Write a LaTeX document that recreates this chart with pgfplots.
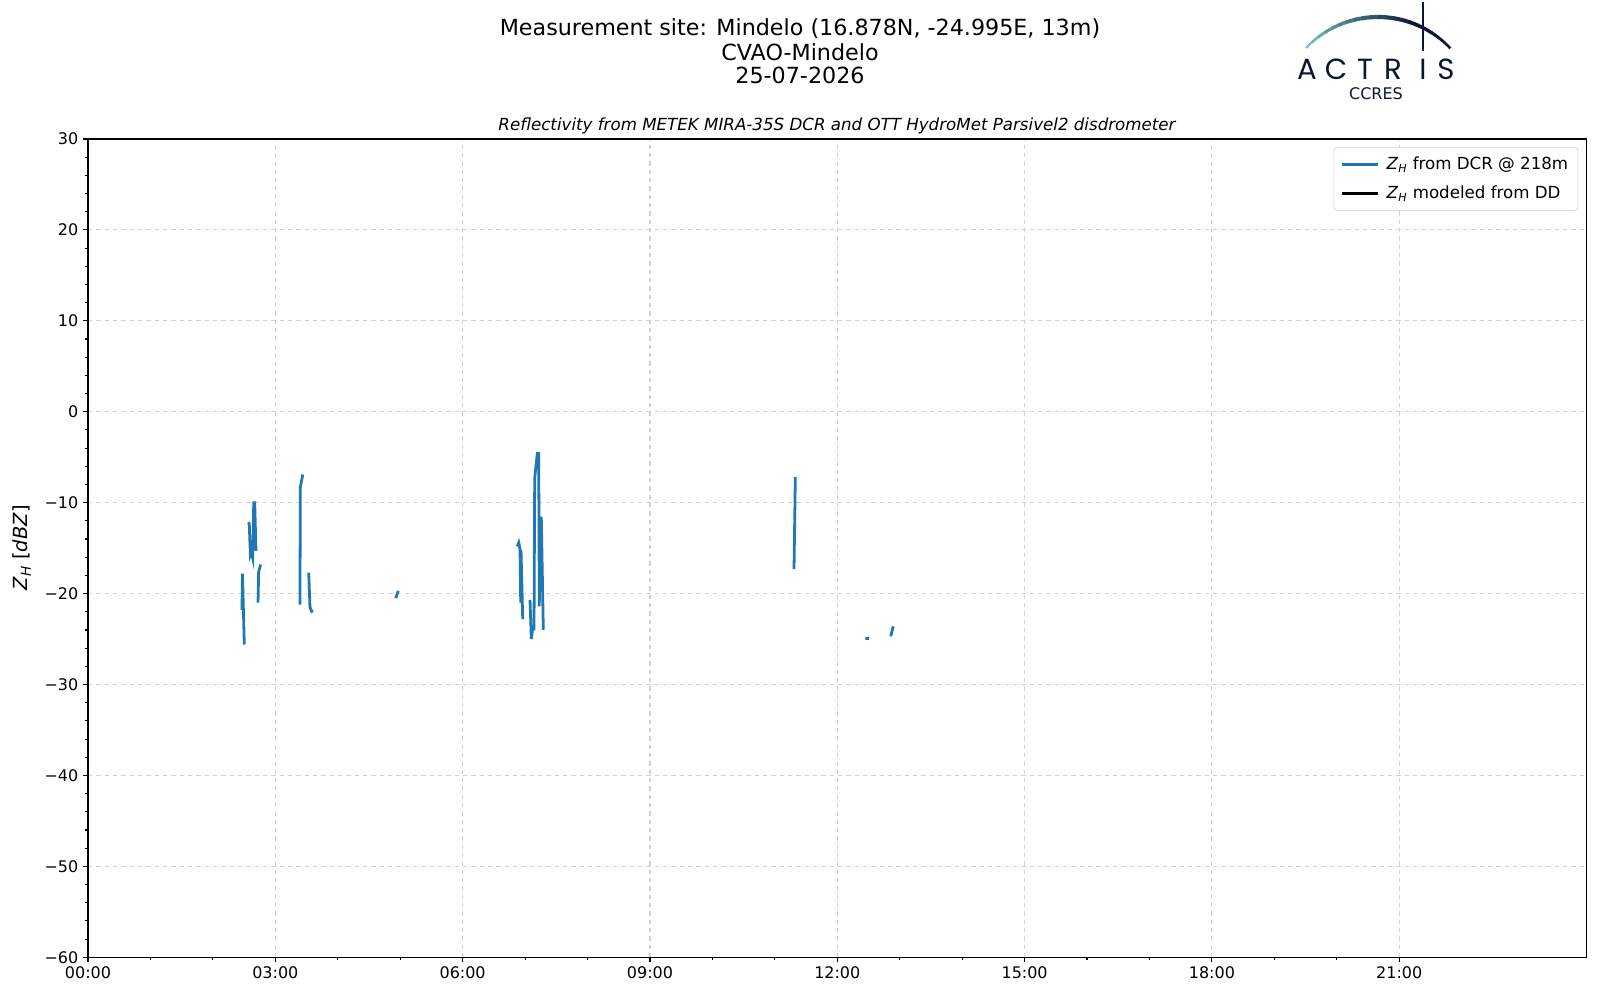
\documentclass[border=0pt]{standalone}
\usepackage{fontspec}
\setmainfont{DejaVu Sans}
\newfontfamily\logofont{Poppins}
\usepackage{pgfplots}
\pgfplotsset{compat=1.18}
\usepackage{pgfplotstable}
\definecolor{tabblue}{HTML}{1F77B4}
\definecolor{navy}{HTML}{0B1437}
\definecolor{tealA}{HTML}{6CC3BE}
\definecolor{gridc}{HTML}{D3D3D3}
\definecolor{legc}{HTML}{CCCCCC}

\pgfplotstableread{
h z
2.466 -21.8
2.474 -17.8
2.503 -25.6
nan nan
2.562 -12.2
2.583 -12.3
2.600 -15.7
2.615 -15.4
2.638 -16.1
2.654 -10.0
2.670 -10.0
2.690 -15.3
nan nan
2.723 -21.0
2.733 -17.6
2.765 -16.8
nan nan
3.395 -21.2
3.400 -8.3
3.440 -6.9
nan nan
3.535 -17.7
3.555 -21.5
3.592 -22.1
nan nan
4.928 -20.5
4.970 -19.7
nan nan
6.875 -14.8
6.898 -14.4
6.919 -15.1
6.930 -21.0
6.935 -15.2
6.962 -22.8
nan nan
7.079 -20.7
7.100 -25.0
7.120 -23.9
7.143 -23.9
7.154 -7.3
7.196 -4.6
7.218 -4.6
7.228 -21.4
7.239 -11.7
7.260 -11.7
7.292 -24.0
nan nan
11.307 -17.3
11.328 -7.2
nan nan
12.45 -24.95
12.51 -24.95
nan nan
12.855 -24.7
12.897 -23.6
}\dcrdata

\begin{document}
\begin{tikzpicture}[x=0.72pt,y=0.72pt]
\useasboundingbox (0,0) rectangle (1600,1000);
\begin{axis}[
  at={(63.36pt,30.74pt)}, anchor=south west,
  scale only axis, width=1079pt, height=589.2pt,
  xmin=0, xmax=24, ymin=-60, ymax=30,
  xtick={0,3,6,9,12,15,18,21},
  xticklabels={00:00,03:00,06:00,09:00,12:00,15:00,18:00,21:00},
  minor x tick num=2,
  ytick={-60,-50,-40,-30,-20,-10,0,10,20,30},
  yticklabels={−60,−50,−40,−30,−20,−10,0,10,20,30},
  minor y tick num=4,
  tick align=outside, xtick pos=bottom, ytick pos=left,
  major tick length=3.5pt, minor tick length=2pt,
  every tick/.style={black, line width=0.8pt},
  axis line style={line width=0.8pt},
  tick label style={font=\fontsize{11.5}{13}\selectfont},
  grid=major,
  major grid style={gridc, dashed, line width=0.8pt},
  unbounded coords=jump,
  legend image code/.code={\draw[#1] (0pt,0pt) -- (26pt,0pt); \path (29pt,0pt);},
  legend style={at={(1,1)}, anchor=north east, xshift=-6pt, yshift=-6pt,
    draw=legc, rounded corners=2pt, font=\fontsize{12}{14}\selectfont,
    inner sep=5pt, row sep=6pt, cells={anchor=west}},
]
\addplot[tabblue, line width=2pt] table[x=h, y=z] {\dcrdata};
\addlegendentry{\textit{Z}\textsubscript{\textit{H}} from DCR @ 218m}
\addlegendimage{black, line width=2pt}
\addlegendentry{\textit{Z}\textsubscript{\textit{H}} modeled from DD}
\end{axis}
% titles
\node[font=\fontsize{16}{18}\selectfont] at (800,971) {Measurement site: Mindelo (16.878N, -24.995E, 13m)};
\node[font=\fontsize{16}{18}\selectfont] at (800,948) {CVAO-Mindelo};
\node[font=\fontsize{16}{18}\selectfont] at (800,924.5) {25-07-2026};
\node[font=\fontsize{12}{14}\selectfont\itshape] at (837,874) {Reflectivity from METEK MIRA-35S DCR and OTT HydroMet Parsivel2 disdrometer};
\node[font=\fontsize{14}{16}\selectfont, rotate=90] at (22,452) {\textit{Z}\textsubscript{\textit{H}} [\textit{dBZ}]};
% logo
\foreach \i in {0,...,19} {
  \pgfmathsetmacro{\aa}{136.6-\i*4.66}
  \pgfmathsetmacro{\ab}{136.6-(\i+1)*4.66-0.3}
  \pgfmathsetmacro{\pc}{min(100,\i*7)}
  \pgfmathsetmacro{\lw}{1.6+1.4*sin(\i*9)}
  \draw[navy!\pc!tealA, line width=\lw pt] (1378,883.9) ++(\aa:99.1) arc[start angle=\aa, end angle=\ab, radius=99.1];
}
\draw[navy, line width=1.4pt] (1423,998) -- (1423,949);
\foreach \xx/\ll in {1307/A,1336/C,1365/T,1393/R,1423/I,1446/S} {
  \node[font=\logofont\fontsize{21}{22}\selectfont, text=navy] at (\xx,931) {\ll};
}
\node[font=\fontsize{11.5}{13}\selectfont, text=navy] at (1376,906) {CCRES};
\end{tikzpicture}
\end{document}
